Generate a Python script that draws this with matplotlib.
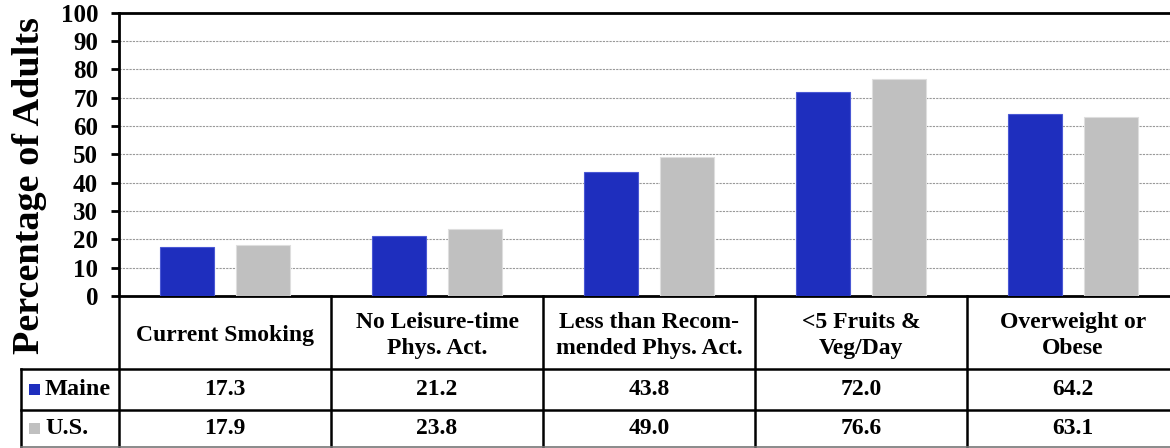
import numpy as np
import matplotlib.pyplot as plt
from matplotlib.patches import Rectangle

plt.rcParams['font.family'] = ['Liberation Serif', 'DejaVu Serif']
plt.rcParams['font.weight'] = 'bold'

# データ
categories = ['Current Smoking', 'No Leisure-time\nPhys. Act.',
              'Less than Recom-\nmended Phys. Act.', '<5 Fruits &\nVeg/Day',
              'Overweight or\nObese']
maine = [17.3, 21.2, 43.8, 72.0, 64.2]
us = [17.9, 23.8, 49.0, 76.6, 63.1]
series_names = ['Maine', 'U.S.']
yticks = list(range(0, 101, 10))

blue = '#1e2ebe'
gray = '#c0c0c0'
colors = [blue, gray]

W, H = 1170, 448
fig = plt.figure(figsize=(W / 100, H / 100), dpi=100)

# 棒グラフ部分 (右端は画像の外まで続く)
left, zero_y, top_y, cw = 119, 296, 12.5, 212
ax = fig.add_axes([left / W, (H - zero_y) / H, 5 * cw / W, (zero_y - top_y) / H])
x = np.arange(len(categories))
off, bw = 0.179, 0.257
ax.bar(x - off, maine, bw, color=blue, edgecolor='#4a58d4', linewidth=0.8, zorder=3)
ax.bar(x + off, us, bw, color=gray, edgecolor='#dedede', linewidth=0.8, zorder=3)
ax.set_xlim(-0.5, len(categories) - 0.5)
ax.set_ylim(0, 100)
ax.set_yticks(yticks)
ax.set_xticks([])
ax.tick_params(axis='y', direction='out', length=6, width=2, pad=9, labelsize=18)
ax.grid(axis='y', color='#999999', linestyle=(0, (2, 1)), linewidth=0.8, zorder=0)
for s in ['left', 'top', 'bottom']:
    ax.spines[s].set_linewidth(2)
ax.spines['right'].set_visible(False)

fig.text(30 / W, 1 - 186 / H, 'Percentage of Adults', rotation=90,
         ha='center', va='center', fontsize=27.5, fontweight='bold')

# 表部分
tax = fig.add_axes([left / W, 0, 5 * cw / W, (H - zero_y) / H])
tax.set_xlim(-0.5, len(categories) - 0.5)
tax.set_ylim(0, H - zero_y)
tax.axis('off')

row_top = H - zero_y      # 152
row_head = H - 369        # 79
row_maine = H - 410       # 38
row_bot = 1.3
leg_left = -0.5 - (left - 21) / cw

lw = 1.8
kw = dict(color='black', linewidth=lw, clip_on=False, solid_capstyle='projecting')
for i in range(len(categories) + 1):
    tax.plot([i - 0.5, i - 0.5], [row_bot, row_top], **kw)
tax.plot([leg_left, leg_left], [row_bot, row_head], **kw)
tax.plot([leg_left, len(categories) - 0.5], [row_head, row_head], **kw)
tax.plot([leg_left, len(categories) - 0.5], [row_maine, row_maine], **kw)
tax.plot([leg_left, len(categories) - 0.5], [row_bot, row_bot],
         color='#777777', linewidth=1.2, clip_on=False)

for i, c in enumerate(categories):
    tax.text(i, (row_top + row_head) / 2 - 3, c, ha='center', va='center',
             fontsize=17, fontweight='bold', linespacing=1.35)
    tax.text(i, (row_head + row_maine) / 2, f'{maine[i]:.1f}', ha='center',
             va='center', fontsize=17, fontweight='bold')
    tax.text(i, (row_maine + row_bot) / 2, f'{us[i]:.1f}', ha='center',
             va='center', fontsize=17, fontweight='bold')

# 凡例
sq = 11 / cw
for name, col, (y0, y1) in zip(series_names, colors,
                                [(row_maine, row_head), (row_bot, row_maine)]):
    ym = (y0 + y1) / 2
    tax.add_patch(Rectangle((leg_left + 8 / cw, ym - 5.5), sq, 11,
                            facecolor=col, edgecolor='none', clip_on=False))
    tax.text(leg_left + 24 / cw, ym, name, ha='left', va='center',
             fontsize=17.5, fontweight='bold')

fig.savefig('out.png', dpi=100)
